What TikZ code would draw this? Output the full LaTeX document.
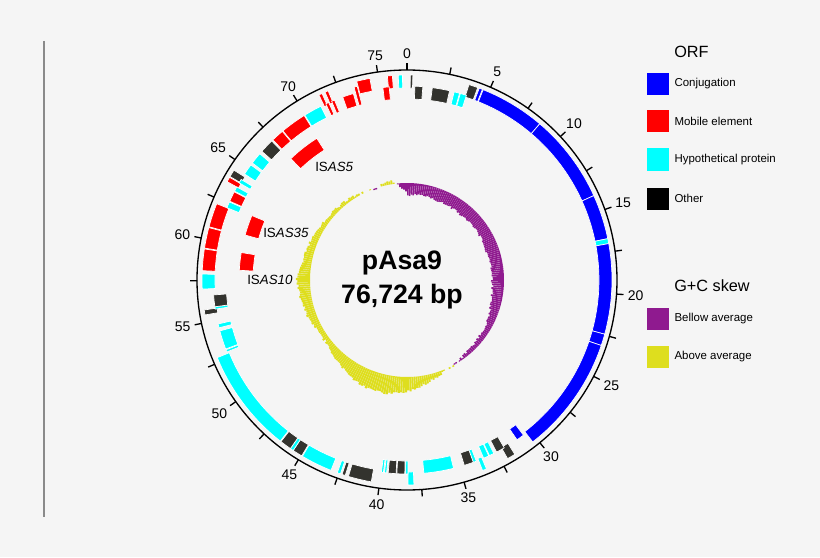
\documentclass[tikz,border=0pt]{standalone}
\usepackage{fontspec}
\setmainfont{Liberation Sans}
\usetikzlibrary{positioning}

\definecolor{conj}{RGB}{0,0,255}
\definecolor{mob}{RGB}{255,0,0}
\definecolor{hyp}{RGB}{0,255,255}
\definecolor{oth}{RGB}{51,51,46}
\definecolor{skewlo}{RGB}{143,26,143}
\definecolor{skewhi}{RGB}{222,222,30}
\definecolor{bgc}{RGB}{245,245,245}
\definecolor{rule}{RGB}{138,138,138}

% degrees per kb
\newcommand{\dg}{4.6922}
% ORF: from kb #1 to kb #2, radii #3 to #4, colour #5
\newcommand{\orf}[5]{\fill[#5,draw=white,line width=0.5pt] ({90-#1*\dg}:#3) arc ({90-#1*\dg}:{90-#2*\dg}:#3) -- ({90-#2*\dg}:#4) arc ({90-#2*\dg}:{90-#1*\dg}:#4) -- cycle;}
% G+C skew every 10 degrees (+ below, - above)
\newcommand{\skw}{12,11,12,12,13,12,12,13,12,12,11,9,6,5,4,0,-3,-9,-15,-18,-18,-15,-10,-5,-6,-9,-11,-13,-9,-7,-5,-4,-3,-2,1,-4,10}

\begin{document}
\begin{tikzpicture}[x=0.75pt,y=0.75pt,
  ticklab/.style={inner sep=0pt,font=\fontsize{10.5}{12}\selectfont},
  islab/.style={anchor=west,inner sep=0pt,font=\fontsize{10}{12}\selectfont},
  legbox/.style={minimum size=16.5pt,inner sep=0pt},
  legtxt/.style={inner sep=0pt,font=\fontsize{8.6}{10}\selectfont},
  leghead/.style={anchor=west,inner sep=0pt,font=\fontsize{12.2}{14}\selectfont}]
\fill[bgc] (-407,-277) rectangle (413,280);
\useasboundingbox (-407,-277) rectangle (413,280);
\draw[rule,line width=1.2pt] (-363,239) -- (-363,-237);

% backbone and scale
\draw[line width=1pt] (0,0) circle (210);
\foreach \k in {0,2.5,...,75}
  \draw[line width=1pt] ({90-\k*\dg}:210) -- ({90-\k*\dg}:217);
\foreach \k [evaluate=\k as \an using {270-\k*\dg}] in {0,5,...,75}
  \node[ticklab,anchor=\an] (n\k) at ({90-\k*\dg}:221) {\k};

% outer track
\foreach \a/\b/\c in {0.2/0.35/oth,3.75/4.3/oth,4.4/4.6/conj,4.65/8.6/conj,8.6/14.0/conj,
  14.0/16.7/conj,16.7/17.0/hyp,17.0/22.45/conj,22.45/23.15/conj,23.15/30.3/conj,
  31.6/32.1/oth,33.5/33.75/hyp,37.95/38.3/hyp,40.5/41.9/oth,42.1/42.3/oth,42.4/42.6/hyp,
  43.0/44.9/hyp,44.95/45.55/oth,45.55/45.75/hyp,45.75/46.45/oth,46.5/52.8/hyp,
  55.45/55.75/oth,57.0/57.9/hyp,58.1/59.4/mob,59.45/60.7/mob,60.75/62.2/mob,
  63.65/63.95/mob,64.0/64.45/oth,71.3/71.5/mob,71.7/71.9/mob,73.7/74.5/mob,
  75.55/75.85/mob,76.2/76.45/hyp}
  \orf{\a}{\b}{192}{205}{\c};
% inner track
\foreach \a/\b/\c in {0.5/1.0/oth,1.6/2.7/oth,3.0/3.35/hyp,3.4/3.8/hyp,30.5/31.0/conj,
  31.95/32.5/oth,32.7/33.0/hyp,33.05/33.4/hyp,33.9/34.1/hyp,34.1/34.7/oth,35.4/37.3/hyp,
  38.3/38.45/hyp,38.5/39.0/oth,39.05/39.55/oth,39.65/39.78/hyp,39.85/39.98/hyp,
  52.9/53.05/hyp,53.1/54.3/hyp,54.5/54.75/hyp,55.7/55.85/hyp,55.85/56.6/oth,
  62.2/62.6/hyp,62.65/63.3/mob,63.35/63.65/hyp,63.95/64.2/hyp,64.6/65.3/hyp,
  65.45/66.2/hyp,66.4/67.3/oth,67.4/68.2/mob,68.25/69.9/mob,69.95/71.1/hyp,
  71.45/71.65/mob,71.85/72.05/mob,72.6/73.3/mob,75.2/75.6/mob}
  \orf{\a}{\b}{181}{194}{\c};
\orf{73.45}{73.65}{181}{200}{mob}

% IS elements
\orf{67.4}{69.8}{154}{168}{mob}
\orf{60.85}{62.35}{154}{168}{mob}
\orf{58.25}{59.55}{154}{168}{mob}
\node[islab] (is5) at (-92,113) {IS\textit{AS5}};
\node[islab] (is35) at (-144,47) {IS\textit{AS35}};
\node[islab] (is10) at (-160,0) {IS\textit{AS10}};

% G+C skew
\pgfmathsetseed{11}
\foreach \ang in {0,1.2,...,358.8}{
  \pgfmathtruncatemacro\ix{\ang/10}
  \pgfmathsetmacro\va{{\skw}[\ix]}
  \pgfmathsetmacro\vb{{\skw}[\ix+1]}
  \pgfmathsetmacro\sv{\va+(\vb-\va)*(\ang/10-\ix)+2.4*rnd-1.2}
  \pgfmathsetmacro\rr{97-\sv}
  \ifdim\sv pt>0.8pt
    \fill[skewlo] ({90-\ang}:97) arc ({90-\ang}:{88.9-\ang}:97) -- ({88.9-\ang}:\rr) arc ({88.9-\ang}:{90-\ang}:\rr) -- cycle;
  \else\ifdim\sv pt<-0.8pt
    \fill[skewhi] ({90-\ang}:97) arc ({90-\ang}:{88.9-\ang}:97) -- ({88.9-\ang}:\rr) arc ({88.9-\ang}:{90-\ang}:\rr) -- cycle;
  \fi\fi
}
\node[font=\fontsize{20}{24}\bfseries] (pname) at (-5,17) {pAsa9};
\node[font=\fontsize{20}{24}\bfseries] (psize) at (-5,-17) {76,724 bp};

% legend
\node[leghead] (horf) at (267,228) {ORF};
\node[legbox,fill=conj] (kconj) at (251,196) {};
\node[legbox,fill=mob] (kmob) at (251,158.5) {};
\node[legbox,fill=hyp] (khyp) at (251,120.5) {};
\node[legbox,fill=black] (koth) at (251,81.5) {};
\node[legtxt,right=3.75pt of kconj] (tconj) {Conjugation};
\node[legtxt,right=3.75pt of kmob] (tmob) {Mobile element};
\node[legtxt,right=3.75pt of khyp] (thyp) {Hypothetical protein};
\node[legtxt,right=3.75pt of koth] (toth) {Other};
\node[leghead] (hgc) at (267,-6) {G+C skew};
\node[legbox,fill=skewlo] (kbel) at (251,-39) {};
\node[legbox,fill=skewhi] (kabo) at (251,-76.5) {};
\node[legtxt,right=3.75pt of kbel] (tbel) {Bellow average};
\node[legtxt,right=3.75pt of kabo] (tabo) {Above average};
\end{tikzpicture}
\end{document}
